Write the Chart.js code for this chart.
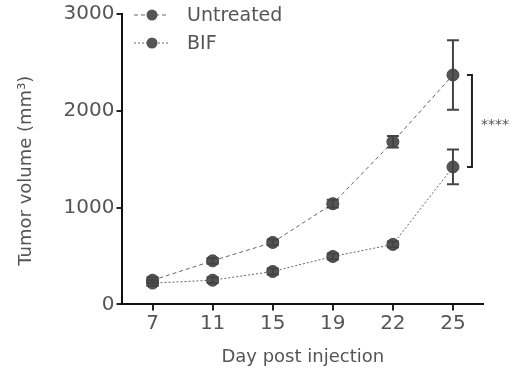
<!DOCTYPE html>
<html lang="en">
<head>
  <meta charset="UTF-8" />
  <title>Tumor volume</title>
  <script src="https://cdn.jsdelivr.net/npm/chart.js"></script>
  <style>
body {
  margin: 0;
  background: #fff;
}

.bloque {
  width: 519px;
  height: 376px;
}
  </style>
</head>
<body>
<div class="bloque">
  <canvas id="grafico" width="519" height="376"></canvas>
</div>

<script>
const days = ['7', '11', '15', '19', '22', '25'];
const untreated = [250, 450, 640, 1040, 1680, 2370];
const untreatedErr = [30, 30, 30, 40, 60, 360];
const bif = [220, 250, 340, 495, 620, 1420];
const bifErr = [30, 30, 30, 30, 30, 180];
const yTicks = [0, 1000, 2000, 3000];
const seriesNames = ['Untreated', 'BIF'];

const fontFam = "'DejaVu Sans', sans-serif";
const textColor = '#555';

// barras de error, leyenda y corchete de significancia
const extras = {
  id: 'extras',
  afterDatasetsDraw(chart) {
    const { ctx, scales: { x, y } } = chart;
    ctx.save();
    ctx.strokeStyle = '#444';
    ctx.lineWidth = 2;
    [[untreated, untreatedErr], [bif, bifErr]].forEach(([vals, errs]) => {
      vals.forEach((v, i) => {
        const px = x.getPixelForValue(i);
        const top = y.getPixelForValue(v + errs[i]);
        const bot = y.getPixelForValue(v - errs[i]);
        ctx.beginPath();
        ctx.moveTo(px, top); ctx.lineTo(px, bot);
        ctx.moveTo(px - 6, top); ctx.lineTo(px + 6, top);
        ctx.moveTo(px - 6, bot); ctx.lineTo(px + 6, bot);
        ctx.stroke();
      });
    });

    // corchete
    const last = days.length - 1;
    const bx = x.getPixelForValue(last) + 19;
    const bTop = y.getPixelForValue(untreated[last]);
    const bBot = y.getPixelForValue(bif[last]);
    ctx.strokeStyle = '#222';
    ctx.beginPath();
    ctx.moveTo(bx - 5, bTop); ctx.lineTo(bx, bTop);
    ctx.lineTo(bx, bBot); ctx.lineTo(bx - 5, bBot);
    ctx.stroke();
    ctx.fillStyle = textColor;
    ctx.font = '14px ' + fontFam;
    ctx.textBaseline = 'middle';
    ctx.fillText('****', bx + 9, (bTop + bBot) / 2 + 4);

    // leyenda
    const dashes = [[4, 3], [2, 2]];
    const rows = [15, 43];
    ctx.font = '19px ' + fontFam;
    seriesNames.forEach((name, k) => {
      const ly = rows[k];
      ctx.strokeStyle = '#666';
      ctx.lineWidth = 1;
      ctx.setLineDash(dashes[k]);
      ctx.beginPath();
      ctx.moveTo(134, ly); ctx.lineTo(168, ly);
      ctx.stroke();
      ctx.setLineDash([]);
      ctx.fillStyle = '#555';
      ctx.beginPath();
      ctx.arc(152, ly, 5.5, 0, Math.PI * 2);
      ctx.fill();
      ctx.fillStyle = textColor;
      ctx.fillText(name, 187, ly + 1);
    });
    ctx.restore();
  }
};

new Chart(document.getElementById('grafico'), {
  type: 'line',
  data: {
    labels: days,
    datasets: [
      {
        label: seriesNames[0],
        data: untreated,
        borderColor: '#666',
        borderWidth: 1,
        borderDash: [4, 3],
        pointRadius: 6,
        pointBackgroundColor: '#555',
        pointBorderColor: '#444',
        pointBorderWidth: 1,
        tension: 0
      },
      {
        label: seriesNames[1],
        data: bif,
        borderColor: '#666',
        borderWidth: 1,
        borderDash: [2, 2],
        pointRadius: 6,
        pointBackgroundColor: '#555',
        pointBorderColor: '#444',
        pointBorderWidth: 1,
        tension: 0
      }
    ]
  },
  options: {
    responsive: false,
    animation: false,
    layout: { padding: { top: 13, right: 36, bottom: 2, left: 6 } },
    plugins: {
      legend: { display: false },
      tooltip: { enabled: false }
    },
    scales: {
      x: {
        offset: true,
        grid: { drawOnChartArea: false, drawTicks: true, tickLength: 6, color: '#222', lineWidth: 2, offset: false },
        border: { display: true, color: '#111', width: 2 },
        ticks: { color: textColor, font: { family: fontFam, size: 20 }, padding: 1 },
        title: { display: true, text: 'Day post injection', color: textColor, font: { family: fontFam, size: 18 }, padding: { top: 10, bottom: 6 } }
      },
      y: {
        min: 0,
        max: 3000,
        afterBuildTicks: (axis) => { axis.ticks = yTicks.map(v => ({ value: v })); },
        grid: { drawOnChartArea: false, drawTicks: true, tickLength: 6, color: '#222', lineWidth: 2 },
        border: { display: true, color: '#111', width: 2 },
        ticks: { color: textColor, font: { family: fontFam, size: 20 }, padding: 2, callback: (v) => String(v) },
        title: { display: true, text: 'Tumor volume (mm³)    ', color: textColor, font: { family: fontFam, size: 18 }, padding: { top: 10, bottom: 24 } }
      }
    }
  },
  plugins: [extras]
});
</script>

</body>
</html>
